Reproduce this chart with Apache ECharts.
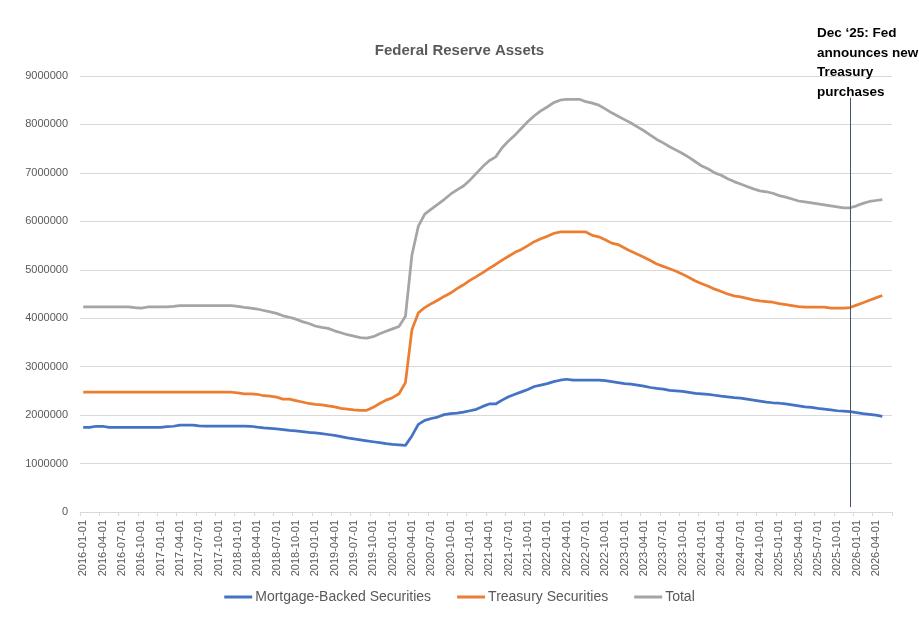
<!DOCTYPE html>
<html>
<head>
<meta charset="utf-8">
<title>Federal Reserve Assets</title>
<script src="https://cdn.jsdelivr.net/npm/echarts@6.0.0/dist/echarts.min.js"></script>
<style>
  html, body { margin: 0; padding: 0; background: #fff; }
  #chart { width: 919px; height: 617px; }
</style>
</head>
<body>
<div id="chart"></div>
<script>
// monthly observations, one per category
const months = [
    "2016-01-01", "2016-02-01", "2016-03-01", "2016-04-01", "2016-05-01", "2016-06-01", "2016-07-01", "2016-08-01", "2016-09-01", "2016-10-01", "2016-11-01", "2016-12-01",
    "2017-01-01", "2017-02-01", "2017-03-01", "2017-04-01", "2017-05-01", "2017-06-01", "2017-07-01", "2017-08-01", "2017-09-01", "2017-10-01", "2017-11-01", "2017-12-01",
    "2018-01-01", "2018-02-01", "2018-03-01", "2018-04-01", "2018-05-01", "2018-06-01", "2018-07-01", "2018-08-01", "2018-09-01", "2018-10-01", "2018-11-01", "2018-12-01",
    "2019-01-01", "2019-02-01", "2019-03-01", "2019-04-01", "2019-05-01", "2019-06-01", "2019-07-01", "2019-08-01", "2019-09-01", "2019-10-01", "2019-11-01", "2019-12-01",
    "2020-01-01", "2020-02-01", "2020-03-01", "2020-04-01", "2020-05-01", "2020-06-01", "2020-07-01", "2020-08-01", "2020-09-01", "2020-10-01", "2020-11-01", "2020-12-01",
    "2021-01-01", "2021-02-01", "2021-03-01", "2021-04-01", "2021-05-01", "2021-06-01", "2021-07-01", "2021-08-01", "2021-09-01", "2021-10-01", "2021-11-01", "2021-12-01",
    "2022-01-01", "2022-02-01", "2022-03-01", "2022-04-01", "2022-05-01", "2022-06-01", "2022-07-01", "2022-08-01", "2022-09-01", "2022-10-01", "2022-11-01", "2022-12-01",
    "2023-01-01", "2023-02-01", "2023-03-01", "2023-04-01", "2023-05-01", "2023-06-01", "2023-07-01", "2023-08-01", "2023-09-01", "2023-10-01", "2023-11-01", "2023-12-01",
    "2024-01-01", "2024-02-01", "2024-03-01", "2024-04-01", "2024-05-01", "2024-06-01", "2024-07-01", "2024-08-01", "2024-09-01", "2024-10-01", "2024-11-01", "2024-12-01",
    "2025-01-01", "2025-02-01", "2025-03-01", "2025-04-01", "2025-05-01", "2025-06-01", "2025-07-01", "2025-08-01", "2025-09-01", "2025-10-01", "2025-11-01", "2025-12-01",
    "2026-01-01", "2026-02-01", "2026-03-01", "2026-04-01", "2026-05-01", "2026-06-01"
];

const mbs = [
    1747000, 1747000, 1770000, 1770000, 1747000, 1747000, 1747000, 1747000, 1747000, 1747000, 1747000, 1747000,
    1747000, 1760000, 1770000, 1795000, 1795000, 1795000, 1780000, 1774000, 1774000, 1774000, 1774000, 1774000,
    1774000, 1774000, 1770000, 1750000, 1735000, 1726000, 1715000, 1700000, 1685000, 1675000, 1660000, 1645000,
    1635000, 1620000, 1600000, 1580000, 1555000, 1530000, 1510000, 1490000, 1470000, 1450000, 1430000, 1410000,
    1395000, 1385000, 1375000, 1570000, 1810000, 1890000, 1930000, 1960000, 2010000, 2030000, 2040000, 2060000,
    2090000, 2120000, 2180000, 2230000, 2230000, 2310000, 2380000, 2430000, 2480000, 2530000, 2590000, 2620000,
    2650000, 2690000, 2720000, 2740000, 2720000, 2720000, 2720000, 2720000, 2720000, 2710000, 2690000, 2670000,
    2650000, 2640000, 2620000, 2600000, 2570000, 2550000, 2535000, 2510000, 2500000, 2490000, 2470000, 2450000,
    2440000, 2430000, 2410000, 2390000, 2375000, 2360000, 2350000, 2330000, 2310000, 2290000, 2270000, 2255000,
    2245000, 2230000, 2210000, 2190000, 2170000, 2160000, 2140000, 2125000, 2110000, 2090000, 2080000, 2070000,
    2050000, 2030000, 2015000, 2000000, 1975000, null
];

const treasury = [
    2472000, 2472000, 2472000, 2472000, 2472000, 2472000, 2472000, 2472000, 2472000, 2472000, 2472000, 2472000,
    2472000, 2472000, 2472000, 2472000, 2472000, 2472000, 2472000, 2472000, 2472000, 2472000, 2472000, 2472000,
    2460000, 2440000, 2440000, 2430000, 2400000, 2390000, 2370000, 2330000, 2330000, 2300000, 2270000, 2240000,
    2220000, 2210000, 2190000, 2170000, 2140000, 2125000, 2110000, 2100000, 2100000, 2160000, 2240000, 2310000,
    2360000, 2440000, 2670000, 3760000, 4110000, 4220000, 4300000, 4370000, 4450000, 4520000, 4610000, 4690000,
    4780000, 4860000, 4940000, 5030000, 5110000, 5200000, 5280000, 5360000, 5420000, 5500000, 5580000, 5640000,
    5690000, 5750000, 5780000, 5780000, 5780000, 5780000, 5780000, 5710000, 5680000, 5620000, 5550000, 5520000,
    5450000, 5380000, 5320000, 5260000, 5190000, 5120000, 5070000, 5020000, 4970000, 4910000, 4840000, 4770000,
    4710000, 4660000, 4600000, 4550000, 4500000, 4460000, 4440000, 4410000, 4380000, 4360000, 4345000, 4330000,
    4300000, 4280000, 4260000, 4240000, 4230000, 4230000, 4230000, 4230000, 4210000, 4210000, 4210000, 4220000,
    4270000, 4320000, 4370000, 4420000, 4470000, null
];

const total = [
    4232000, 4232000, 4232000, 4232000, 4232000, 4232000, 4232000, 4232000, 4220000, 4210000, 4232000, 4232000,
    4232000, 4232000, 4245000, 4260000, 4260000, 4260000, 4260000, 4260000, 4260000, 4260000, 4260000, 4260000,
    4245000, 4225000, 4210000, 4190000, 4160000, 4130000, 4100000, 4050000, 4020000, 3980000, 3930000, 3890000,
    3840000, 3810000, 3790000, 3740000, 3700000, 3660000, 3630000, 3600000, 3590000, 3620000, 3680000, 3730000,
    3780000, 3830000, 4040000, 5300000, 5900000, 6150000, 6250000, 6350000, 6450000, 6560000, 6650000, 6730000,
    6850000, 6990000, 7130000, 7250000, 7330000, 7520000, 7660000, 7780000, 7920000, 8060000, 8180000, 8280000,
    8360000, 8450000, 8500000, 8520000, 8520000, 8520000, 8470000, 8440000, 8400000, 8320000, 8240000, 8170000,
    8100000, 8030000, 7950000, 7870000, 7780000, 7690000, 7620000, 7540000, 7470000, 7400000, 7320000, 7230000,
    7140000, 7080000, 7000000, 6950000, 6880000, 6820000, 6770000, 6720000, 6670000, 6630000, 6610000, 6580000,
    6530000, 6500000, 6460000, 6420000, 6400000, 6380000, 6360000, 6340000, 6320000, 6300000, 6280000, 6280000,
    6320000, 6370000, 6410000, 6430000, 6450000, null
];

// the Dec '25 marker line
const eventMonth = "2025-12-01";
const eventSpan = [100000, 8550000];
const eventText = "Dec \u201825: Fed\nannounces new\nTreasury\npurchases";

const FONT = "'Liberation Sans', Arial, sans-serif";
const TEXT_GREY = "#595959";
const GRID_GREY = "#d9d9d9";

function line_series(name, data, color) {
    return {
        name: name,
        type: "line",
        data: data,
        showSymbol: false,
        symbol: "none",
        connectNulls: false,
        lineStyle: { color: color, width: 2.75 },
        itemStyle: { color: color },
        emphasis: { disabled: true },
    };
}

function render_chart() {
    const chart = echarts.init(document.getElementById("chart"), null, { renderer: "canvas" });

    const totalSeries = line_series("Total", total, "#a5a5a5");
    totalSeries.markLine = {
        silent: true,
        symbol: "none",
        label: { show: false },
        lineStyle: { color: "#44546a", width: 1, type: "solid" },
        data: [[
            { coord: [eventMonth, eventSpan[0]] },
            { coord: [eventMonth, eventSpan[1]] },
        ]],
    };

    chart.setOption({
        animation: false,
        backgroundColor: "#fff",
        textStyle: { fontFamily: FONT },
        title: [
            {
                text: "Federal Reserve Assets",
                left: "center",
                top: 38,
                textStyle: { fontFamily: FONT, fontSize: 15, fontWeight: "bold", color: TEXT_GREY },
            },
            {
                text: eventText,
                left: 812,
                top: 19,
                textStyle: { fontFamily: FONT, fontSize: 13.5, fontWeight: "bold", color: "#000", lineHeight: 19.4 },
            },
        ],
        legend: {
            bottom: 8,
            left: "center",
            icon: "rect",
            itemWidth: 28,
            itemHeight: 3,
            itemGap: 26,
            textStyle: { fontFamily: FONT, fontSize: 14, color: TEXT_GREY, padding: [0, 0, 0, -2] },
            data: ["Mortgage-Backed Securities", "Treasury Securities", "Total"],
        },
        grid: { left: 80, right: 27, top: 76, bottom: 105, containLabel: false },
        xAxis: {
            type: "category",
            data: months,
            boundaryGap: true,
            axisLine: { lineStyle: { color: GRID_GREY, width: 1 } },
            axisTick: { show: true, interval: 2, length: 4, lineStyle: { color: GRID_GREY } },
            axisLabel: {
                interval: 2,
                rotate: 90,
                margin: 8,
                fontFamily: FONT,
                fontSize: 11,
                color: TEXT_GREY,
            },
            splitLine: { show: false },
        },
        yAxis: {
            type: "value",
            min: 0,
            max: 9000000,
            interval: 1000000,
            axisLine: { show: false },
            axisTick: { show: false },
            axisLabel: {
                margin: 12,
                fontFamily: FONT,
                fontSize: 11,
                color: TEXT_GREY,
                formatter: (v) => String(v),
            },
            splitLine: { lineStyle: { color: GRID_GREY, width: 1 } },
        },
        series: [
            line_series("Mortgage-Backed Securities", mbs, "#4472c4"),
            line_series("Treasury Securities", treasury, "#ed7d31"),
            totalSeries,
        ],
    });
}

window.addEventListener("load", render_chart);
</script>
</body>
</html>
